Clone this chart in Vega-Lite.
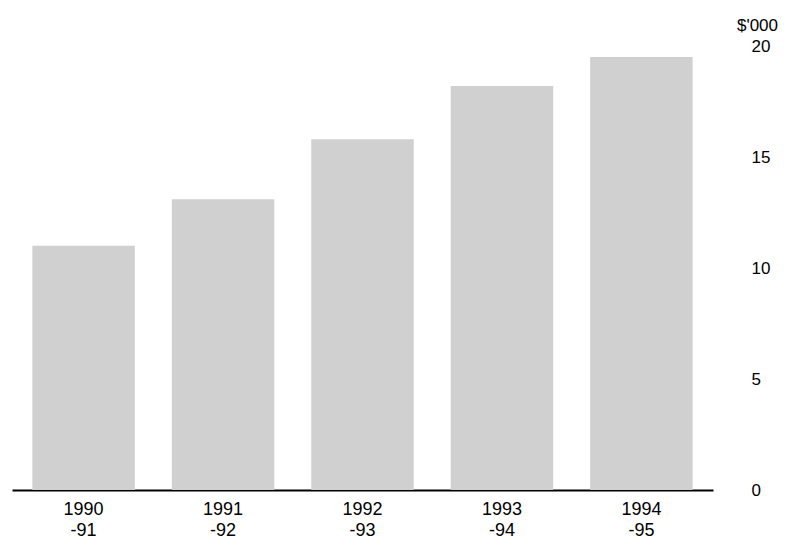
{
  "$schema": "https://vega.github.io/schema/vega-lite/v6.json",
  "autosize": {"type": "none"},
  "width": 701,
  "height": 444,
  "padding": {"left": 12, "top": 46, "right": 77, "bottom": 56},
  "background": "white",
  "config": {"view": {"stroke": null}, "font": "Liberation Sans"},
  "data": {"values": [
    {"year": "1990-91", "value": 11.0},
    {"year": "1991-92", "value": 13.1},
    {"year": "1992-93", "value": 15.8},
    {"year": "1993-94", "value": 18.2},
    {"year": "1994-95", "value": 19.5}
  ]},
  "mark": {"type": "bar", "color": "#d0d0d0"},
  "encoding": {
    "x": {
      "field": "year", "type": "nominal", "sort": null,
      "scale": {"paddingInner": 0.265, "paddingOuter": 0.146},
      "axis": {
        "title": null, "labelAngle": 0, "ticks": false,
        "domainColor": "black", "domainWidth": 2,
        "labelExpr": "[slice(datum.label,0,4), slice(datum.label,4)]",
        "labelFontSize": 18, "labelColor": "black", "labelPadding": 10,
        "labelLineHeight": 21
      }
    },
    "y": {
      "field": "value", "type": "quantitative",
      "scale": {"domain": [0, 20]},
      "axis": {
        "orient": "right", "values": [0, 5, 10, 15, 20],
        "ticks": false, "domain": false, "grid": false,
        "labelAlign": "left", "labelPadding": 38,
        "labelFontSize": 17, "labelColor": "black",
        "title": "$'000", "titleAngle": 0, "titleAlign": "center",
        "titleBaseline": "middle", "titleX": 44, "titleY": -21,
        "titleFontSize": 17, "titleFontWeight": "normal", "titleColor": "black"
      }
    }
  }
}
